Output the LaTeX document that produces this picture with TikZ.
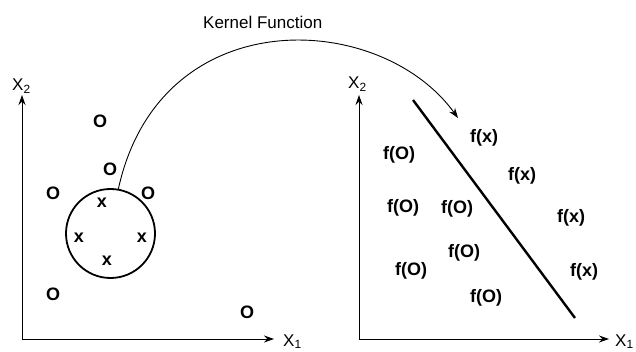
\documentclass[tikz,border=0pt]{standalone}
\usepackage{fontspec}
\setmainfont{Liberation Sans}
\usetikzlibrary{positioning, arrows.meta}
\tikzset{
  dot/.style={font=\fontsize{18}{20}\selectfont\bfseries, inner sep=0pt},
  axlabel/.style={font=\fontsize{17}{19}\selectfont, inner sep=0pt, anchor=base west},
  axis/.style={line width=0.9pt, -{Stealth[length=10pt,width=7pt]}},
}

\begin{document}
\begin{tikzpicture}[x=1pt, y=-1pt]
        \useasboundingbox (0,0) rectangle (636,352);
        % input space
        \coordinate (lo) at (22,339);
        \coordinate (ly) at (22,95);
        \coordinate (lx) at (274,339);
        \draw[axis] (lo) -- (ly);
        \draw[axis] (lo) -- (lx);
        \node[axlabel] (lxtwo) at (12,91) {X\textsubscript{2}};
        \node[axlabel] (lxone) at (283,346) {X\textsubscript{1}};
        \node[draw, circle, line width=1.8pt, minimum size=89pt, inner sep=0pt] (ring) at (110.5,233.5) {};
        \foreach \p [count=\i] in {(100,121),(110,169),(53,193),(148,193),(53,294),(247,312)}
          \node[dot] (o\i) at \p {O};
        \foreach \p [count=\i] in {(102,203),(79,238),(142,238),(107,261)}
          \node[dot] (x\i) at \p {x};
        % feature space
        \coordinate (ro) at (359,339);
        \coordinate (ry) at (359,95);
        \coordinate (rx) at (609,339);
        \draw[axis] (ro) -- (ry);
        \draw[axis] (ro) -- (rx);
        \node[axlabel] (rxtwo) at (348,89) {X\textsubscript{2}};
        \node[axlabel] (rxone) at (615,346) {X\textsubscript{1}};
        \coordinate (sa) at (413,100);
        \coordinate (sb) at (575,318);
        \draw[line width=2.4pt] (sa) -- (sb);
        \foreach \p [count=\i] in {(399,155),(403,208),(457,209),(464,253),(411,271),(486,298)}
          \node[dot] (fo\i) at \p {f(O)};
        \foreach \p [count=\i] in {(484,138),(522,176),(571,218),(584,272)}
          \node[dot] (fx\i) at \p {f(x)};
        % mapping
        \coordinate (tip) at (458,118);
        \draw[line width=0.9pt, -{Stealth[length=10pt,width=7pt]}] (ring.80) .. controls (160,0) and (380,10) .. (tip);
        \node[axlabel] (kernel) at (203,29) {Kernel Function};
     \end{tikzpicture}
\end{document}
